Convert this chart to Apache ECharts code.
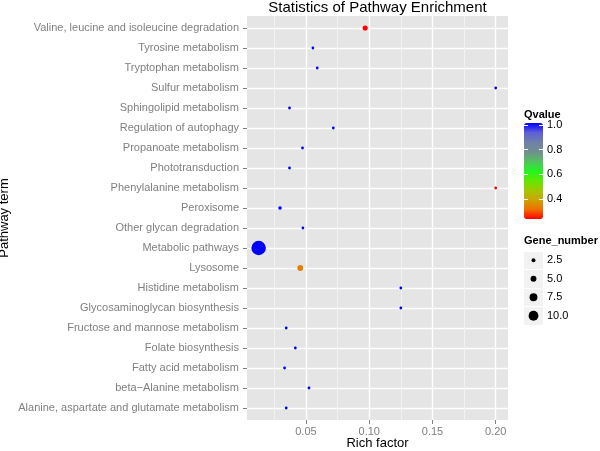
<!DOCTYPE html>
<html>
<head>
<meta charset="utf-8">
<script src="https://cdn.jsdelivr.net/npm/echarts@6/dist/echarts.min.js"></script>
<style>html,body{margin:0;padding:0;background:#fff;}#c{width:600px;height:451px;}</style>
</head>
<body>
<div id="c"></div>
<script>
// Categories from bottom to top
const categories = [
  "Alanine, aspartate and glutamate metabolism",
  "beta\u2212Alanine metabolism",
  "Fatty acid metabolism",
  "Folate biosynthesis",
  "Fructose and mannose metabolism",
  "Glycosaminoglycan biosynthesis",
  "Histidine metabolism",
  "Lysosome",
  "Metabolic pathways",
  "Other glycan degradation",
  "Peroxisome",
  "Phenylalanine metabolism",
  "Phototransduction",
  "Propanoate metabolism",
  "Regulation of autophagy",
  "Sphingolipid metabolism",
  "Sulfur metabolism",
  "Tryptophan metabolism",
  "Tyrosine metabolism",
  "Valine, leucine and isoleucine degradation"
];
const richFactor = [0.0344, 0.0524, 0.0331, 0.0416, 0.0344, 0.125, 0.125, 0.0455, 0.0126, 0.0476,
                    0.0295, 0.200, 0.0370, 0.0473, 0.0716, 0.0370, 0.200, 0.0589, 0.0555, 0.0968];
const qvalue = [1.0, 1.0, 1.0, 1.0, 1.0, 1.0, 1.0, 0.34, 1.0, 1.0,
                1.0, 0.24, 1.0, 1.0, 1.0, 1.0, 1.0, 1.0, 1.0, 0.24];
const geneNumber = [1, 1, 1, 1, 1, 1, 1, 5, 16, 1,
                    2, 1, 1, 1, 1, 1, 1, 1, 1, 4];
const xTicks = [0.05, 0.10, 0.15, 0.20];
const xMinorTicks = [0.025, 0.075, 0.125, 0.175];
const qTicks = [0.4, 0.6, 0.8, 1.0];
const sizeBreaks = [2.5, 5.0, 7.5, 10.0];
const sizeLabels = ["2.5", "5.0", "7.5", "10.0"];
const qColors = ['#FF0000', '#EE7000', '#CCA400', '#A0C800', '#60E800', '#22F522',
                 '#55C060', '#708F90', '#7080A8', '#5E5ED8', '#0000FF'];

const yIdx = categories.map((_, i) => i);
const sizeFn = n => 2 + 0.78 * n;
const FONT = '"Liberation Sans", Arial, Helvetica, sans-serif';
const GREY = '#7F7F7F';

const chart = echarts.init(document.getElementById('c'), null, {renderer: 'canvas'});
const option = {
  backgroundColor: '#FFFFFF',
  animation: false,
  textStyle: {fontFamily: FONT},
  title: [
    {text: 'Statistics of Pathway Enrichment', left: 377.5, top: 0, padding: 0, textAlign: 'center',
     textStyle: {fontSize: 15, fontWeight: 'normal', color: '#000', fontFamily: FONT}},
    {text: 'Qvalue', left: 524, top: 109, padding: 0,
     textStyle: {fontSize: 11, fontWeight: 'bold', color: '#000', fontFamily: FONT}},
    {text: 'Gene_number', left: 524, top: 235, padding: 0,
     textStyle: {fontSize: 11, fontWeight: 'bold', color: '#000', fontFamily: FONT}}
  ],
  grid: [
    {left: 247, top: 16, width: 261, height: 404, show: true, backgroundColor: '#E5E5E5', borderWidth: 0,
     containLabel: false, outerBoundsMode: 'none'},
    {left: 524, top: 123, width: 19, height: 96, show: false, containLabel: false, outerBoundsMode: 'none'},
    {left: 524, top: 251, width: 19, height: 74, show: true, backgroundColor: '#F2F2F2', borderWidth: 0,
     containLabel: false, outerBoundsMode: 'none'}
  ],
  xAxis: [
    {gridIndex: 0, type: 'value', position: 'bottom', min: 0.0034, max: 0.2097,
     axisLine: {show: false}, axisLabel: {show: false}, axisTick: {show: false, customValues: xMinorTicks},
     splitLine: {show: true, lineStyle: {color: '#F2F2F2', width: 1}}},
    {gridIndex: 0, type: 'value', position: 'bottom', min: 0.0034, max: 0.2097,
     name: 'Rich factor', nameLocation: 'middle', nameGap: 17, nameMoveOverlap: false,
     nameTextStyle: {fontSize: 13, color: '#000', fontFamily: FONT},
     axisLine: {show: false},
     axisTick: {show: true, length: 4, customValues: xTicks, lineStyle: {color: GREY}},
     axisLabel: {show: true, customValues: xTicks, margin: 6, fontSize: 11, color: GREY, fontFamily: FONT,
                 formatter: v => v.toFixed(2)},
     splitLine: {show: true, lineStyle: {color: '#FFFFFF', width: 1.4}}},
    {gridIndex: 1, type: 'value', min: 0, max: 1, show: false},
    {gridIndex: 2, type: 'value', min: 0, max: 1, show: false}
  ],
  yAxis: [
    {gridIndex: 0, type: 'value', min: -0.6, max: 19.6,
     name: 'Pathway term', nameLocation: 'middle', nameGap: 236, nameMoveOverlap: false,
     nameTextStyle: {fontSize: 13, color: '#000', fontFamily: FONT},
     axisLine: {show: false},
     axisTick: {show: true, length: 4, customValues: yIdx, lineStyle: {color: GREY}},
     axisLabel: {show: true, customValues: yIdx, margin: 8, fontSize: 11, color: GREY, fontFamily: FONT,
                 formatter: v => categories[Math.round(v)]},
     splitLine: {show: true, lineStyle: {color: '#FFFFFF', width: 1.4}}},
    {gridIndex: 1, type: 'value', min: 0.237, max: 1.016, position: 'left', z: 10,
     axisLine: {show: false}, splitLine: {show: false}, axisLabel: {show: false},
     axisTick: {show: true, inside: true, length: 4, customValues: qTicks, lineStyle: {color: '#FFFFFF', width: 1}}},
    {gridIndex: 1, type: 'value', min: 0.237, max: 1.016, position: 'right', z: 10,
     axisLine: {show: false}, splitLine: {show: false},
     axisTick: {show: true, inside: true, length: 4, customValues: qTicks, lineStyle: {color: '#FFFFFF', width: 1}},
     axisLabel: {show: true, customValues: qTicks, margin: 4, fontSize: 11, color: '#000', fontFamily: FONT,
                 formatter: v => v.toFixed(1)}},
    {gridIndex: 2, type: 'category', data: sizeLabels, inverse: true, position: 'right',
     axisLine: {show: false}, axisTick: {show: false},
     splitLine: {show: true, lineStyle: {color: '#FFFFFF', width: 1}},
     axisLabel: {margin: 4, fontSize: 11, color: '#000', fontFamily: FONT}}
  ],
  visualMap: [{
    type: 'continuous', seriesIndex: 0, dimension: 3, min: 0.24, max: 1.0,
    left: 524, top: 123, itemWidth: 19, itemHeight: 96, padding: 0,
    calculable: false, realtime: false, text: null, showLabel: false,
    inRange: {color: qColors}
  }],
  series: [
    {type: 'scatter', xAxisIndex: 1, yAxisIndex: 0,
     data: categories.map((c, i) => [richFactor[i], i, geneNumber[i], qvalue[i]]),
     symbolSize: v => sizeFn(v[2]),
     itemStyle: {opacity: 1}},
    {type: 'scatter', xAxisIndex: 3, yAxisIndex: 3,
     data: sizeBreaks.map((s, i) => [0.5, i, s]),
     symbolSize: v => sizeFn(v[2]),
     itemStyle: {color: '#000', opacity: 1}}
  ]
};
chart.setOption(option);
</script>
</body>
</html>
